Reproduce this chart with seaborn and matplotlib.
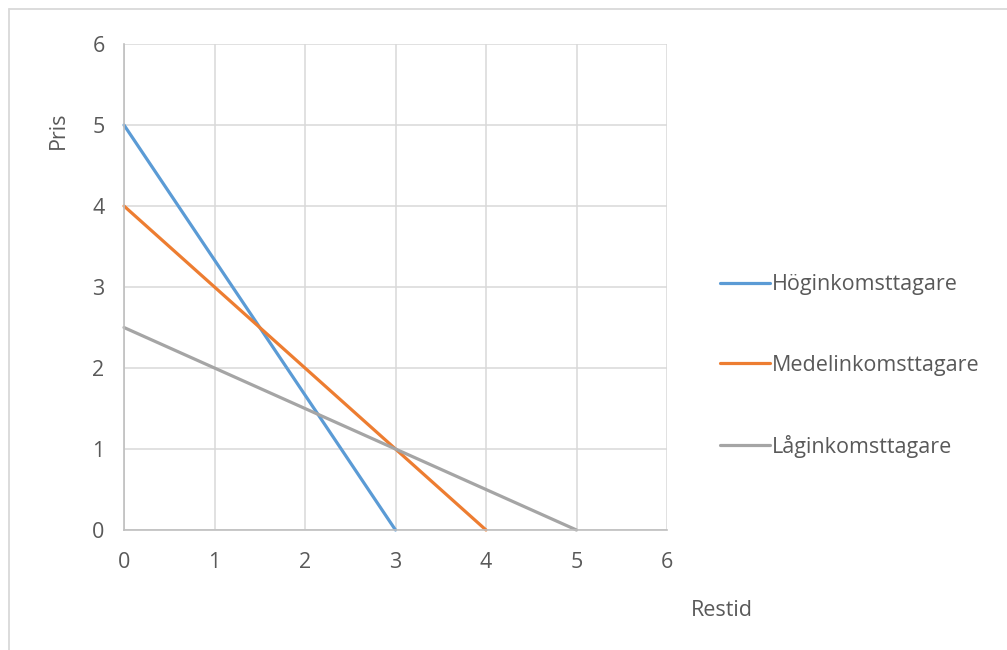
import matplotlib
matplotlib.use("Agg")
import matplotlib.pyplot as plt
from matplotlib.lines import Line2D
import seaborn as sns
import pandas as pd

# Demand lines: price vs travel time per income group
groups = ["Höginkomsttagare", "Medelinkomsttagare", "Låginkomsttagare"]
restid_hog = [0, 3]
pris_hog = [5, 0]
restid_medel = [0, 4]
pris_medel = [4, 0]
restid_lag = [0, 5]
pris_lag = [2.5, 0]
ticks = [0, 1, 2, 3, 4, 5, 6]
colors = ["#5B9BD5", "#ED7D31", "#A5A5A5"]

df = pd.concat([
    pd.DataFrame({"Restid": restid_hog, "Pris": pris_hog, "Grupp": groups[0]}),
    pd.DataFrame({"Restid": restid_medel, "Pris": pris_medel, "Grupp": groups[1]}),
    pd.DataFrame({"Restid": restid_lag, "Pris": pris_lag, "Grupp": groups[2]}),
], ignore_index=True)

sns.set_theme(style="white")
plt.rcParams["font.family"] = ["Open Sans", "DejaVu Sans"]
text_color = "#595959"
fs = 15.5

W, H = 1007, 650
fig = plt.figure(figsize=(W / 100, H / 100), dpi=100)
ax = fig.add_axes([124 / W, 1 - 530 / H, (667 - 124) / W, (530 - 44) / H])

sns.lineplot(data=df, x="Restid", y="Pris", hue="Grupp", hue_order=groups,
             palette=colors, linewidth=2.3, ax=ax, legend=False, sort=False,
             estimator=None)
for ln in ax.lines:
    ln.set_solid_capstyle("round")
    ln.set_clip_on(False)

ax.set_xlim(0, 6)
ax.set_ylim(0, 6)
ax.set_xticks(ticks)
ax.set_yticks(ticks)
ax.grid(True, color="#D9D9D9", linewidth=1.1)
ax.set_axisbelow(True)
for side in ["top", "right"]:
    ax.spines[side].set_visible(False)
for side in ["left", "bottom"]:
    ax.spines[side].set_color("#BFBFBF")
    ax.spines[side].set_linewidth(1.2)
ax.tick_params(axis="both", length=0, labelsize=fs, colors=text_color)
ax.tick_params(axis="x", pad=16)
ax.tick_params(axis="y", pad=14)
ax.set_xlabel("")
ax.set_ylabel("")

fig.text(722 / W, 1 - 611 / H, "Restid", ha="center", va="center",
         fontsize=fs, color=text_color)
fig.text(58 / W, 1 - 130 / H, "Pris", ha="center", va="center",
         rotation=90, fontsize=fs, color=text_color)

handles = [Line2D([0], [0], color=c, linewidth=2.3) for c in colors]
fig.legend(handles, groups, loc="center left",
           bbox_to_anchor=(720 / W, 1 - 366 / H), frameon=False,
           fontsize=fs, labelcolor=text_color, handlelength=2.3,
           handletextpad=0.12, labelspacing=2.75, borderpad=0,
           borderaxespad=0)

# Thin frame along the top and left edges of the chart area
fig.add_artist(Line2D([8.5 / W, 1], [1 - 8.5 / H, 1 - 8.5 / H],
                      transform=fig.transFigure, color="#D9D9D9", linewidth=1.3))
fig.add_artist(Line2D([8.5 / W, 8.5 / W], [0, 1 - 8.5 / H],
                      transform=fig.transFigure, color="#D9D9D9", linewidth=1.3))

fig.savefig("out.png", dpi=100, facecolor="white")
